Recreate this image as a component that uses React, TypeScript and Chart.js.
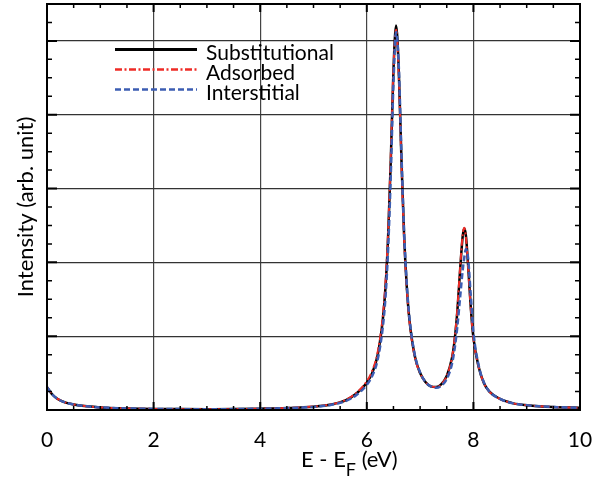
import React, { useEffect, useRef } from "react";
import { Chart, registerables } from "chart.js";
Chart.register(...registerables);

const FONT = "Lato, 'DejaVu Sans', sans-serif";

const energy = [0, 0.1, 0.2, 0.35, 0.5, 0.75, 1, 1.5, 2, 2.5, 3, 3.5, 4, 4.5, 5, 5.3, 5.6, 5.8, 6, 6.1, 6.2, 6.3, 6.35, 6.4, 6.45, 6.5, 6.55, 6.6, 6.65, 6.7, 6.75, 6.8, 6.9, 7, 7.1, 7.2, 7.3, 7.4, 7.5, 7.6, 7.65, 7.7, 7.75, 7.8, 7.83, 7.86, 7.9, 7.95, 8, 8.1, 8.2, 8.3, 8.5, 8.75, 9, 9.5, 10];

const substitutional = [
  0.31, 0.21, 0.15, 0.10, 0.075,
  0.05, 0.035, 0.022, 0.015, 0.012,
  0.011, 0.012, 0.018, 0.027, 0.045,
  0.07, 0.13, 0.22, 0.37, 0.50,
  0.73, 1.22, 1.65, 2.35, 3.38,
  4.60, 5.21, 4.60, 3.39, 2.36,
  1.67, 1.22, 0.73, 0.50, 0.38,
  0.32, 0.31, 0.35, 0.46, 0.71,
  0.96, 1.35, 1.89, 2.36, 2.46,
  2.36, 1.97, 1.40, 0.98, 0.58,
  0.36, 0.25, 0.15, 0.09, 0.065,
  0.04, 0.03,
];

const adsorbed = [
  0.31, 0.21, 0.15, 0.10, 0.075,
  0.05, 0.035, 0.022, 0.015, 0.012,
  0.011, 0.012, 0.018, 0.028, 0.047,
  0.073, 0.135, 0.23, 0.39, 0.53,
  0.77, 1.27, 1.72, 2.42, 3.45,
  4.62, 5.15, 4.52, 3.33, 2.32,
  1.64, 1.20, 0.72, 0.50, 0.38,
  0.32, 0.31, 0.35, 0.46, 0.72,
  0.98, 1.38, 1.92, 2.38, 2.47,
  2.34, 1.94, 1.38, 0.97, 0.58,
  0.36, 0.25, 0.15, 0.09, 0.065,
  0.04, 0.03,
];

const interstitial = [
  0.31, 0.21, 0.15, 0.10, 0.075,
  0.05, 0.035, 0.022, 0.015, 0.012,
  0.011, 0.012, 0.017, 0.025, 0.042,
  0.065, 0.12, 0.20, 0.34, 0.46,
  0.67, 1.12, 1.52, 2.18, 3.18,
  4.42, 5.12, 4.66, 3.47, 2.42,
  1.71, 1.25, 0.75, 0.51, 0.38,
  0.32, 0.30, 0.33, 0.42, 0.63,
  0.84, 1.14, 1.52, 1.90, 2.07,
  2.18, 2.06, 1.56, 1.06, 0.60,
  0.37, 0.25, 0.15, 0.09, 0.065,
  0.04, 0.03,
];

const seriesNames = ["Substitutional", "Adsorbed", "Interstitial"];
const xTickValues = [0, 2, 4, 6, 8, 10];
const yTitle = "Intensity (arb. unit)";
const xTitleMain = "E - E";
const xTitleSub = "F";
const xTitleTail = " (eV)";

const framePlugin = {
  id: "framePlugin",
  afterDraw(chart: any) {
    const { ctx, chartArea: a, scales } = chart;
    const xs = scales.x;
    const ys = scales.y;
    ctx.save();
    ctx.strokeStyle = "#000";
    // x ticks (inside, bottom and top)
    for (let i = 0; i <= 20; i++) {
      const v = i * 0.5;
      const px = xs.getPixelForValue(v);
      const major = i % 4 === 0;
      const len = major ? 8 : 4;
      ctx.lineWidth = major ? 2 : 1.5;
      ctx.beginPath();
      ctx.moveTo(px, a.bottom);
      ctx.lineTo(px, a.bottom - len);
      ctx.moveTo(px, a.top);
      ctx.lineTo(px, a.top + len);
      ctx.stroke();
    }
    for (let i = 0; i <= 22; i++) {
      const v = i * 0.25;
      const py = ys.getPixelForValue(v);
      const major = i % 4 === 0;
      const len = major ? 10 : 5;
      ctx.lineWidth = major ? 2 : 1.5;
      ctx.beginPath();
      ctx.moveTo(a.left, py);
      ctx.lineTo(a.left + len, py);
      ctx.moveTo(a.right, py);
      ctx.lineTo(a.right - len, py);
      ctx.stroke();
    }
    ctx.lineWidth = 2;
    ctx.strokeRect(a.left, a.top, a.right - a.left, a.bottom - a.top);

    // legend
    const ds = chart.data.datasets;
    ctx.font = "21px " + FONT;
    ctx.textAlign = "left";
    ctx.textBaseline = "alphabetic";
    for (let i = 0; i < ds.length; i++) {
      const d = ds[i];
      const ly = 49.5 + 20 * i;
      ctx.beginPath();
      ctx.setLineDash(d.borderDash || []);
      ctx.strokeStyle = d.borderColor;
      ctx.lineWidth = i === 0 ? 3 : 2.5;
      ctx.moveTo(115, ly);
      ctx.lineTo(197, ly);
      ctx.stroke();
      ctx.setLineDash([]);
      ctx.fillStyle = "#000";
      ctx.fillText(d.label, 206, 59.5 + 20 * i);
    }

    // y title
    ctx.save();
    ctx.translate(26, (a.top + a.bottom) / 2);
    ctx.rotate(-Math.PI / 2);
    ctx.textAlign = "center";
    ctx.textBaseline = "middle";
    ctx.font = "22px " + FONT;
    ctx.fillStyle = "#000";
    ctx.fillText(yTitle, 0, 0);
    ctx.restore();

    // x title with subscript
    ctx.fillStyle = "#000";
    ctx.textAlign = "left";
    ctx.textBaseline = "alphabetic";
    let tx = 301;
    ctx.font = "22px " + FONT;
    ctx.fillText(xTitleMain, tx, 467);
    tx += ctx.measureText(xTitleMain).width;
    ctx.font = "18px " + FONT;
    ctx.fillText(xTitleSub, tx, 476);
    tx += ctx.measureText(xTitleSub).width;
    ctx.font = "22px " + FONT;
    ctx.fillText(xTitleTail, tx, 467);
    ctx.restore();
  },
};

export default function App() {
  const ref = useRef<HTMLCanvasElement | null>(null);
  useEffect(() => {
    document.body.style.margin = "0";
    const mk = (arr: number[]) => energy.map((e, i) => ({ x: e, y: arr[i] }));
    const chart = new Chart(ref.current as HTMLCanvasElement, {
      type: "line",
      data: {
        datasets: [
          {
            label: seriesNames[0],
            data: mk(substitutional),
            borderColor: "#000000",
            borderWidth: 2.5,
            pointRadius: 0,
            cubicInterpolationMode: "monotone",
            order: 3,
          },
          {
            label: seriesNames[1],
            data: mk(adsorbed),
            borderColor: "#ee2b26",
            borderWidth: 2,
            borderDash: [7, 2.5, 2, 2.5],
            pointRadius: 0,
            cubicInterpolationMode: "monotone",
            order: 2,
          },
          {
            label: seriesNames[2],
            data: mk(interstitial),
            borderColor: "#3c5db3",
            borderWidth: 2.5,
            borderDash: [6, 3],
            pointRadius: 0,
            cubicInterpolationMode: "monotone",
            order: 1,
          },
        ],
      } as any,
      options: {
        animation: false,
        responsive: true,
        maintainAspectRatio: false,
        layout: { padding: { top: 4, right: 31, left: 0, bottom: 0 } },
        plugins: { legend: { display: false }, tooltip: { enabled: false } },
        scales: {
          x: {
            type: "linear",
            min: 0,
            max: 10,
            afterFit: (s: any) => {
              s.height = 75;
            },
            afterBuildTicks: (s: any) => {
              s.ticks = xTickValues.map((v) => ({ value: v }));
            },
            ticks: {
              font: { family: FONT, size: 21 },
              color: "#000",
              padding: 18,
              maxRotation: 0,
              autoSkip: false,
            },
            border: { display: false },
            grid: {
              drawTicks: false,
              lineWidth: 1.2,
              color: (c: any) =>
                c.tick && (c.tick.value === 0 || c.tick.value === 10) ? "rgba(0,0,0,0)" : "#444",
            },
          },
          y: {
            type: "linear",
            min: 0,
            max: 5.5,
            afterFit: (s: any) => {
              s.width = 47;
            },
            ticks: { display: false, stepSize: 1 },
            border: { display: false },
            grid: {
              drawTicks: false,
              lineWidth: 1.2,
              color: (c: any) =>
                c.tick && Number.isInteger(c.tick.value) && c.tick.value > 0 ? "#333" : "rgba(0,0,0,0)",
            },
          },
        },
      },
      plugins: [framePlugin],
    });
    return () => chart.destroy();
  }, []);
  return (
    <div style={{ width: 611, height: 485, position: "relative", background: "#fff" }}>
      <canvas ref={ref} />
    </div>
  );
}
